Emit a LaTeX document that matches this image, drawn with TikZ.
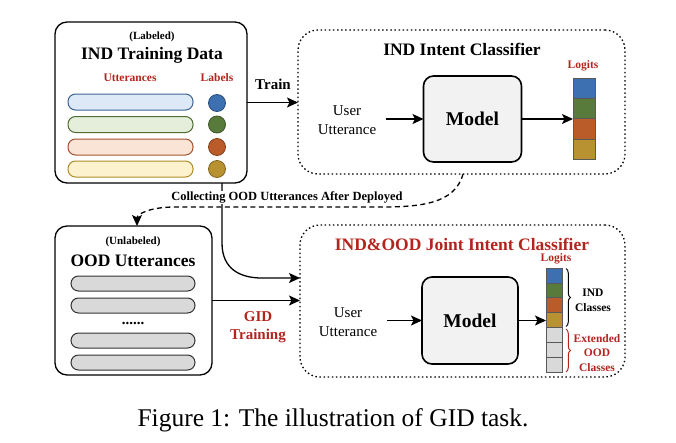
\documentclass[tikz,border=0pt]{standalone}
\usepackage{fontspec}
\setmainfont{Liberation Serif}
\usetikzlibrary{arrows.meta,decorations.pathreplacing,calc}
\definecolor{redtxt}{RGB}{180,36,30}
\definecolor{cblue}{RGB}{60,112,176}
\definecolor{cgreen}{RGB}{88,122,58}
\definecolor{corange}{RGB}{186,92,42}
\definecolor{cgold}{RGB}{184,146,48}
\definecolor{fblue}{RGB}{221,233,246}
\definecolor{fgreen}{RGB}{228,238,218}
\definecolor{forange}{RGB}{249,228,213}
\definecolor{fgold}{RGB}{253,242,206}
\definecolor{bblue}{RGB}{62,100,150}
\definecolor{bgreen}{RGB}{80,110,50}
\definecolor{borange}{RGB}{160,82,45}
\definecolor{bgold}{RGB}{176,140,40}
\definecolor{gcell}{RGB}{217,217,217}
\definecolor{mfill}{RGB}{242,242,242}
\newcommand{\fs}[1]{\fontsize{#1}{#1}\selectfont}
\tikzset{
  tip/.style={-{Stealth[length=11pt,width=10pt,inset=2.5pt]}},
  box/.style={draw, line width=1.3pt, rounded corners=12pt, inner sep=0pt, outer sep=0pt},
  dotbox/.style={draw, line width=1.3pt, dash pattern=on 1.5pt off 2.6pt, rounded corners=20pt, inner sep=0pt, outer sep=0pt},
  modelbox/.style={draw, fill=mfill, line width=1.6pt, rounded corners=10pt, minimum width=98pt, minimum height=86pt, inner sep=0pt, outer sep=0pt, font=\fs{19.5}\bfseries},
  arr/.style={line width=1.3pt, tip},
  bar/.style={draw, line width=1pt, rounded corners=7.5pt, minimum width=125pt, minimum height=16pt, inner sep=0pt},
  gbar/.style={draw=black!80, fill=gcell, line width=1pt, rounded corners=7.5pt, minimum width=124pt, minimum height=15pt, inner sep=0pt},
  lab/.style={circle, draw, line width=0.8pt, minimum size=17pt, inner sep=0pt},
  cell/.style={draw=black!65, line width=0.8pt, inner sep=0pt},
  sm/.style={font=\fs{11.5}\bfseries, inner sep=0pt},
  title/.style={font=\fs{17.5}\bfseries, inner sep=0pt},
  plain/.style={font=\fontsize{15}{19}\selectfont, align=center, inner sep=0pt},
}
\begin{document}
\begin{tikzpicture}[x=1pt,y=-1pt]
\useasboundingbox (0,0) rectangle (676,442);

% ---------- IND Training Data ----------
\node[box, minimum width=192pt, minimum height=161pt] (ind) at (151,102.5) {};
\node[sm, font=\fs{11}\bfseries] (labeled) at (152,37) {(Labeled)};
\node[title] (indtitle) at (152,55) {IND Training Data};
\node[sm, text=redtxt] (utt) at (130,78) {Utterances};
\node[sm, text=redtxt] (labels) at (217,78) {Labels};
\node[bar, draw=bblue, fill=fblue] (b1) at (130.5,102) {};
\node[bar, draw=bgreen, fill=fgreen] (b2) at (130.5,124.5) {};
\node[bar, draw=borange, fill=forange] (b3) at (130.5,147) {};
\node[bar, draw=bgold, fill=fgold] (b4) at (130.5,169) {};
\node[lab, fill=cblue, draw=cblue!70!black] (c1) at (217,103) {};
\node[lab, fill=cgreen, draw=cgreen!70!black] (c2) at (217,124.5) {};
\node[lab, fill=corange, draw=corange!70!black] (c3) at (217,147) {};
\node[lab, fill=cgold, draw=cgold!70!black] (c4) at (217,169) {};

% ---------- IND Intent Classifier ----------
\node[dotbox, minimum width=327pt, minimum height=144pt] (indcls) at (461.5,102) {};
\node[title] (indclst) at (462,49) {IND Intent Classifier};
\node[plain] (uu1) at (347,120) {User\\Utterance};
\node[modelbox] (m1) at (472.5,119) {Model};
\node[inner sep=0pt, outer sep=0pt, minimum width=22pt, minimum height=81pt] (l1) at (584,118.5) {};
\node[cell, fill=cblue, minimum width=22pt, minimum height=20.25pt] (l1a) at (584,88.4) {};
\node[cell, fill=cgreen, minimum width=22pt, minimum height=20.25pt] (l1b) at (584,108.6) {};
\node[cell, fill=corange, minimum width=22pt, minimum height=20.25pt] (l1c) at (584,128.9) {};
\node[cell, fill=cgold, minimum width=22pt, minimum height=20.25pt] (l1d) at (584,149.1) {};
\node[sm, text=redtxt] (lg1) at (583,66) {Logits};
\draw[arr] ([xshift=10pt]uu1.east |- m1.west) -- (m1.west);
\draw[arr] (m1.east) -- (m1.east -| l1.west);

% Train arrow
\draw[arr] (ind.east) -- (ind.east -| indcls.west);
\node[font=\fs{15}\bfseries, inner sep=0pt] (train) at (273,84) {Train};

% ---------- OOD Utterances ----------
\node[box, minimum width=157pt, minimum height=149pt] (ood) at (133.5,300.5) {};
\node[sm, font=\fs{11}\bfseries] (unlab) at (133,242) {(Unlabeled)};
\node[title] (oodt) at (133,261) {OOD Utterances};
\node[gbar] (g1) at (133,283.5) {};
\node[gbar] (g2) at (133,305.5) {};
\node[font=\fs{15}\bfseries, inner sep=0pt] (dots) at (133,323) {......};
\node[gbar] (g3) at (133,340.5) {};
\node[gbar] (g4) at (133,362.5) {};

% ---------- Joint classifier box ----------
\node[dotbox, minimum width=325pt, minimum height=152pt] (joint) at (462.5,301) {};

% ---------- curve from IND data to joint classifier ----------
\coordinate (indout) at ([xshift=71pt]ind.south);
\coordinate (jin) at ([yshift=23pt]joint.west);
\draw[line width=1.3pt, tip]
  (indout) -- ++(0,60)
  .. controls +(0,26) and +(-22,0) .. ($(jin)+(-38,0)$) -- (jin);

% ---------- dashed collecting arrow ----------
\draw[line width=1.3pt, dash pattern=on 5pt off 3.5pt, tip]
  ([xshift=1.5pt]indcls.south) .. controls +(-8,30) and +(40,0) .. (380,207)
  -- (175,207) .. controls +(-25,0) and +(0,-12) .. ([xshift=3.5pt]ood.north);
\node[font=\fs{12.5}\bfseries, fill=white, inner sep=1pt] (collect) at (287,197.5) {Collecting OOD Utterances After Deployed};

% GID arrow
\draw[arr] (ood.east) -- (ood.east -| joint.west);
\node[font=\fontsize{15}{18}\selectfont\bfseries, text=redtxt, align=center, inner sep=0pt] (gid) at (258,327) {GID\\Training};

% ---------- Joint classifier contents ----------
\node[title, text=redtxt] (jointt) at (462,244) {IND\&OOD Joint Intent Classifier};
\node[plain] (uu2) at (348,322) {User\\Utterance};
\node[modelbox, minimum width=96pt, minimum height=87pt] (m2) at (470,320.5) {Model};
\node[inner sep=0pt, outer sep=0pt, minimum width=16pt, minimum height=104.3pt] (l2) at (554,320.15) {};
\foreach \i/\c in {0/cblue,1/cgreen,2/corange,3/cgold,4/gcell,5/gcell,6/gcell}{
  \node[cell, fill=\c, minimum width=16pt, minimum height=14.9pt] (l2c\i) at (554,{275.45+14.9*\i}) {};
}
\node[sm, text=redtxt] (lg2) at (556,259) {Logits};
\draw[arr] ([xshift=10pt]uu2.east |- m2.west) -- (m2.west);
\draw[arr] (m2.east) -- (m2.east -| l2.west);

\draw[line width=1pt, decorate, decoration={brace, amplitude=4.5pt}] (566,268.5) -- (566,326.5);
\draw[line width=1pt, redtxt, decorate, decoration={brace, amplitude=4.5pt}] (566,329) -- (566,372);
\node[font=\fontsize{11.5}{15}\selectfont\bfseries, align=center, inner sep=0pt] (indc) at (593,300.5) {IND\\Classes};
\node[font=\fontsize{11.5}{14.5}\selectfont\bfseries, text=redtxt, align=center, inner sep=0pt] (oodc) at (597,353) {Extended\\OOD\\Classes};

% ---------- caption ----------
\node[font=\fs{25.5}, inner sep=0pt] (cap) at (333,420) {Figure 1: The illustration of GID task.};
\end{tikzpicture}
\end{document}
